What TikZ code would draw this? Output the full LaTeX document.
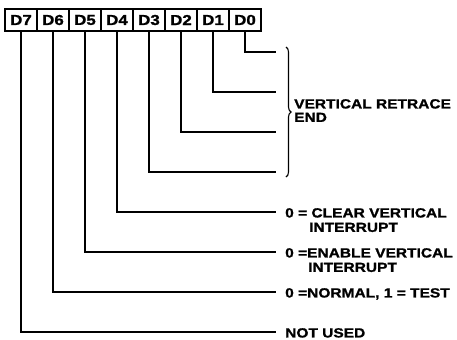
\documentclass[tikz,border=0pt]{standalone}
\usepackage{fontspec}
\newfontfamily\regfont{Liberation Sans}[FakeStretch=1.17, BoldFeatures={FakeBold=1.2}]
\usetikzlibrary{decorations.pathreplacing}

\begin{document}
\begin{tikzpicture}[
  x=1bp, y=-1bp,
  font=\regfont\bfseries\fontsize{13.3}{13.5}\selectfont,
  cell/.style={draw=black, line width=1.5bp, minimum width=32bp, minimum height=22bp,
               inner sep=0pt, font=\regfont\bfseries\fontsize{14.5}{15}\selectfont},
  wire/.style={draw=black, line width=1.6bp},
  lbl/.style={anchor=north west, inner sep=0pt, align=left},
  vbrace/.style={draw=black, line width=1.1bp, decorate, decoration={brace, amplitude=5bp}}
]
\useasboundingbox (0,0) rectangle (457,339);
% register cells
\node[cell] (d7) at (21,20) {D7};
\node[cell] (d6) at (53,20) {D6};
\node[cell] (d5) at (85,20) {D5};
\node[cell] (d4) at (117,20) {D4};
\node[cell] (d3) at (149,20) {D3};
\node[cell] (d2) at (181,20) {D2};
\node[cell] (d1) at (213,20) {D1};
\node[cell] (d0) at (245,20) {D0};
% wire ends
\coordinate (e0) at (276,52);
\coordinate (e1) at (276,92);
\coordinate (e2) at (276,132);
\coordinate (e3) at (276,172);
\coordinate (e4) at (276,212);
\coordinate (e5) at (276,252);
\coordinate (e6) at (276,292);
\coordinate (e7) at (276,332);
\draw[wire] (d0.south) |- (e0);
\draw[wire] (d1.south) |- (e1);
\draw[wire] (d2.south) |- (e2);
\draw[wire] (d3.south) |- (e3);
\draw[wire] (d4.south) |- (e4);
\draw[wire] (d5.south) |- (e5);
\draw[wire] (d6.south) |- (e6);
\draw[wire] (d7.south) |- (e7);
% brace over D0--D3
\coordinate (bt) at (286,47);
\coordinate (bb) at (286,177);
\draw[vbrace] (bt) -- (bb);
\node[lbl] (vre) at (294,99) {VERTICAL RETRACE\\END};
% labels
\node[lbl] (l4) at (285,208) {0 = CLEAR VERTICAL\\[1pt]\hspace*{24bp}INTERRUPT};
\node[lbl] (l5) at (285,248) {0 =ENABLE VERTICAL\\[1pt]\hspace*{23bp}INTERRUPT};
\node[lbl] (l6) at (285,288) {0 =NORMAL, 1 = TEST};
\node[lbl] (l7) at (285,328) {NOT USED};
\end{tikzpicture}
\end{document}
